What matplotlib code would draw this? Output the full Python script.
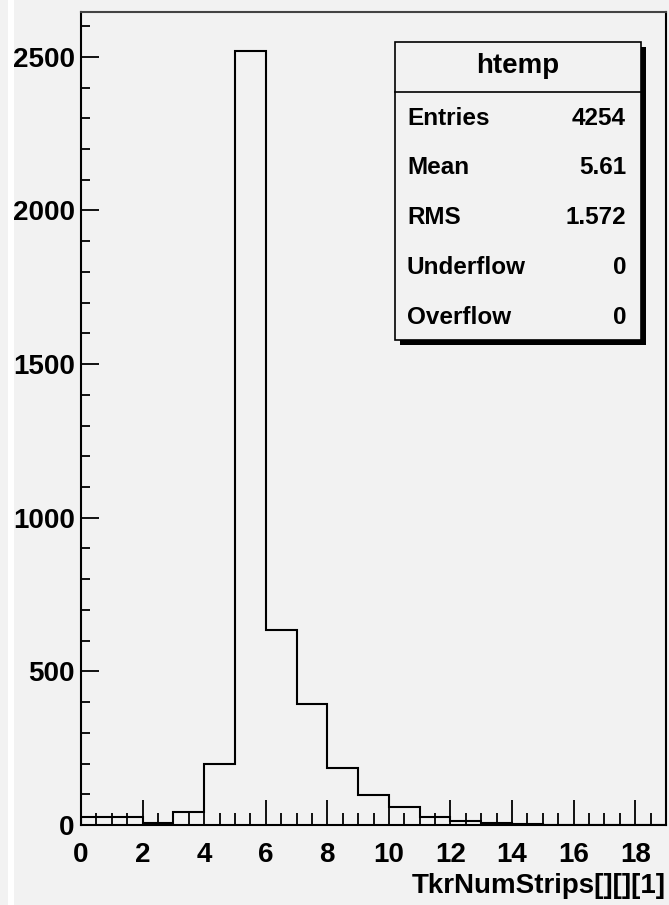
import matplotlib
matplotlib.use("Agg")
import matplotlib.pyplot as plt
from matplotlib.patches import Rectangle
from matplotlib.ticker import MultipleLocator
import numpy as np

# histogram contents, unit bins from 0 to 19
edges = np.arange(0, 20, 1)
counts = [27, 27, 7, 41, 198, 2520, 636, 393, 185, 98, 60, 27, 14, 5, 4, 1, 1, 0, 0]

stat_names = ["Entries", "Mean", "RMS", "Underflow", "Overflow"]
stat_values = ["4254", "5.61", "1.572", "0", "0"]
hist_name = "htemp"
xlabel = "TkrNumStrips[][][1]"

W, H = 669, 905
bg = "#f2f2f2"
plt.rcParams['font.family'] = ['Liberation Sans', 'DejaVu Sans']
plt.rcParams['font.weight'] = 'bold'

fig = plt.figure(figsize=(W / 100, H / 100), dpi=100, facecolor=bg)

def fx(px):
    return px / W

def fy(py):
    return 1 - py / H

# canvas bevel highlight on the left
fig.add_artist(Rectangle((fx(8), 0), fx(6), 1, transform=fig.transFigure,
                         facecolor="white", edgecolor="none"))

ax = fig.add_axes([fx(81), fy(825), fx(666) - fx(81), fy(12) - fy(825)])
ax.set_facecolor(bg)
ax.stairs(counts, edges, color="black", lw=1.5)
ax.set_xlim(0, 19)
ax.set_ylim(0, max(counts) * 1.05)

ax.xaxis.set_major_locator(MultipleLocator(2))
ax.xaxis.set_minor_locator(MultipleLocator(0.5))
ax.yaxis.set_major_locator(MultipleLocator(500))
ax.yaxis.set_minor_locator(MultipleLocator(100))
ax.tick_params(axis="x", which="major", direction="in", length=18, width=1.3, pad=12, labelsize=20)
ax.tick_params(axis="x", which="minor", direction="in", length=9, width=1.3)
ax.tick_params(axis="y", which="major", direction="in", length=13, width=1.3, pad=4.5, labelsize=20)
ax.tick_params(axis="y", which="minor", direction="in", length=6.5, width=1.3)
for lab in ax.get_xticklabels() + ax.get_yticklabels():
    lab.set_fontweight("bold")
for s in ax.spines.values():
    s.set_linewidth(1.5)
ax.spines["top"].set_color("#444444")

fig.text(fx(666), fy(886), xlabel, ha="right", va="center", fontsize=20, fontweight="bold")

# stats box with shadow
bx0, bx1, by0, by1 = 395, 641, 42, 340
fig.add_artist(Rectangle((fx(bx0 + 5), fy(by1 + 5)), fx(bx1 - bx0), fy(by0) - fy(by1),
                         transform=fig.transFigure, facecolor="black", edgecolor="none"))
fig.add_artist(Rectangle((fx(bx0), fy(by1)), fx(bx1 - bx0), fy(by0) - fy(by1),
                         transform=fig.transFigure, facecolor=bg, edgecolor="black", lw=1.2))
fig.add_artist(plt.Line2D([fx(bx0), fx(bx1)], [fy(92), fy(92)], transform=fig.transFigure,
                          color="black", lw=1.2))
fig.text(fx((bx0 + bx1) / 2), fy(66), hist_name, ha="center", va="center", fontsize=20, fontweight="bold")
for i, (n, v) in enumerate(zip(stat_names, stat_values)):
    y = 118 + 50 * i
    fig.text(fx(407), fy(y), n, ha="left", va="center", fontsize=17.5, fontweight="bold")
    fig.text(fx(626), fy(y), v, ha="right", va="center", fontsize=17.5, fontweight="bold")

fig.savefig("out.png", dpi=100, facecolor=bg)
